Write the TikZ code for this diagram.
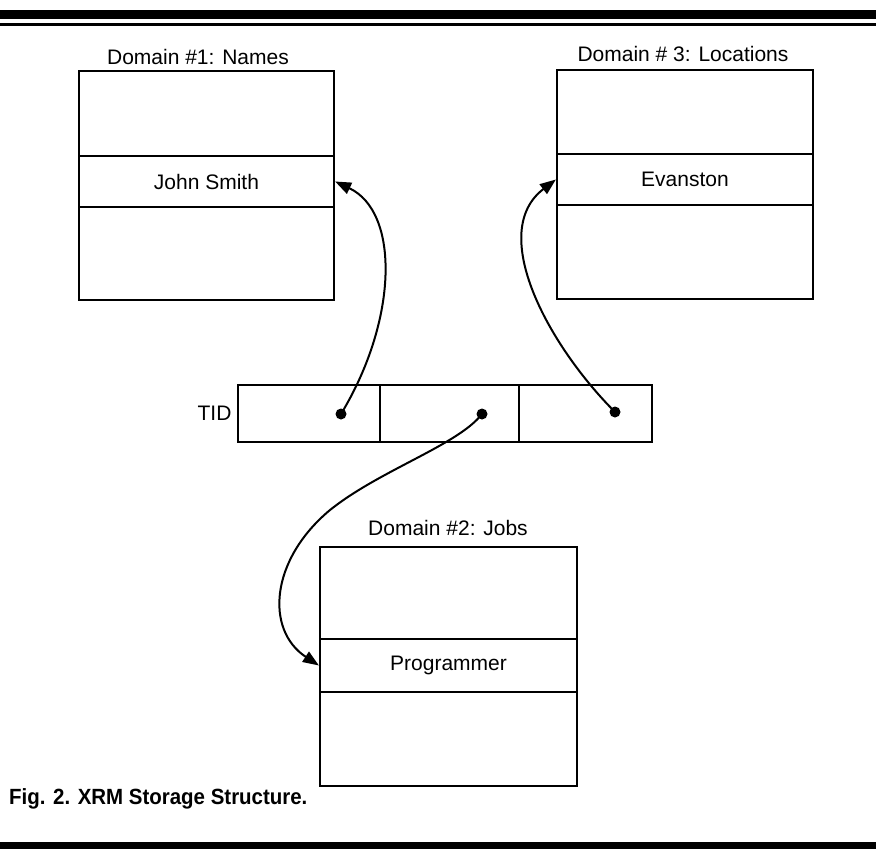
\documentclass[tikz,border=0pt]{standalone}
\usepackage{fontspec}
\setmainfont{Liberation Sans}
\usetikzlibrary{arrows.meta}
\begin{document}
\begin{tikzpicture}[x=1pt,y=-1pt,
  cell/.style={draw, rectangle, inner sep=0pt, line width=2.2pt, font=\fontsize{21}{25}\selectfont},
  title/.style={inner sep=0pt, font=\fontsize{21}{25}\selectfont},
  link/.style={line width=2pt, -{Triangle[length=16pt,width=12pt]}},
  rule/.style={fill=black}]
\useasboundingbox (0,0) rectangle (876,854);
% page rules
\fill[rule] (0,10) rectangle (876,19);
\fill[rule] (0,23) rectangle (876,26);
\fill[rule] (0,842) rectangle (876,849);
% Domain 1
\node[title] (t1) at (198,57) {Domain \#1: Names};
\node[cell, minimum width=255pt, minimum height=85pt] (d1a) at (206.5,113.5) {};
\node[cell, minimum width=255pt, minimum height=51pt] (d1b) at (206.5,181.5) {John Smith};
\node[cell, minimum width=255pt, minimum height=93pt] (d1c) at (206.5,253.5) {};
% Domain 3
\node[title] (t3) at (683,54) {Domain \# 3: Locations};
\node[cell, minimum width=256pt, minimum height=84pt] (d3a) at (685,112) {};
\node[cell, minimum width=256pt, minimum height=51pt] (d3b) at (685,179.5) {Evanston};
\node[cell, minimum width=256pt, minimum height=94pt] (d3c) at (685,252) {};
% TID
\node[title] (tid) at (214.5,413) {TID};
\node[cell, minimum width=142pt, minimum height=57pt] (c1) at (309,413.5) {};
\node[cell, minimum width=139pt, minimum height=57pt] (c2) at (449.5,413.5) {};
\node[cell, minimum width=133pt, minimum height=57pt] (c3) at (585.5,413.5) {};
\coordinate (p1) at (341,414);
\coordinate (p2) at (482,414);
\coordinate (p3) at (615,412);
\fill (p1) circle (5.5pt);
\fill (p2) circle (5.5pt);
\fill (p3) circle (5.5pt);
% Domain 2
\node[title] (t2) at (448,528) {Domain \#2: Jobs};
\node[cell, minimum width=257pt, minimum height=92pt] (d2a) at (448.5,593) {};
\node[cell, minimum width=257pt, minimum height=53pt] (d2b) at (448.5,665.5) {Programmer};
\node[cell, minimum width=257pt, minimum height=94pt] (d2c) at (448.5,739) {};
% connectors
\draw[link] (p1) .. controls (398,320) and (400,212) .. (d1b.east);
\draw[link] (p3) .. controls (548,345) and (487,232) .. (d3b.west);
\draw[link] (p2) .. controls (458,445) and (380,470) .. (330,510)
               .. controls (270,560) and (265,630) .. (d2b.west);
% caption
\node[inner sep=0pt, anchor=west, font=\fontsize{22}{26}\selectfont\bfseries] (cap) at (9,799) {\scalebox{0.93}[1]{Fig. 2. XRM Storage Structure.}};
\end{tikzpicture}
\end{document}
